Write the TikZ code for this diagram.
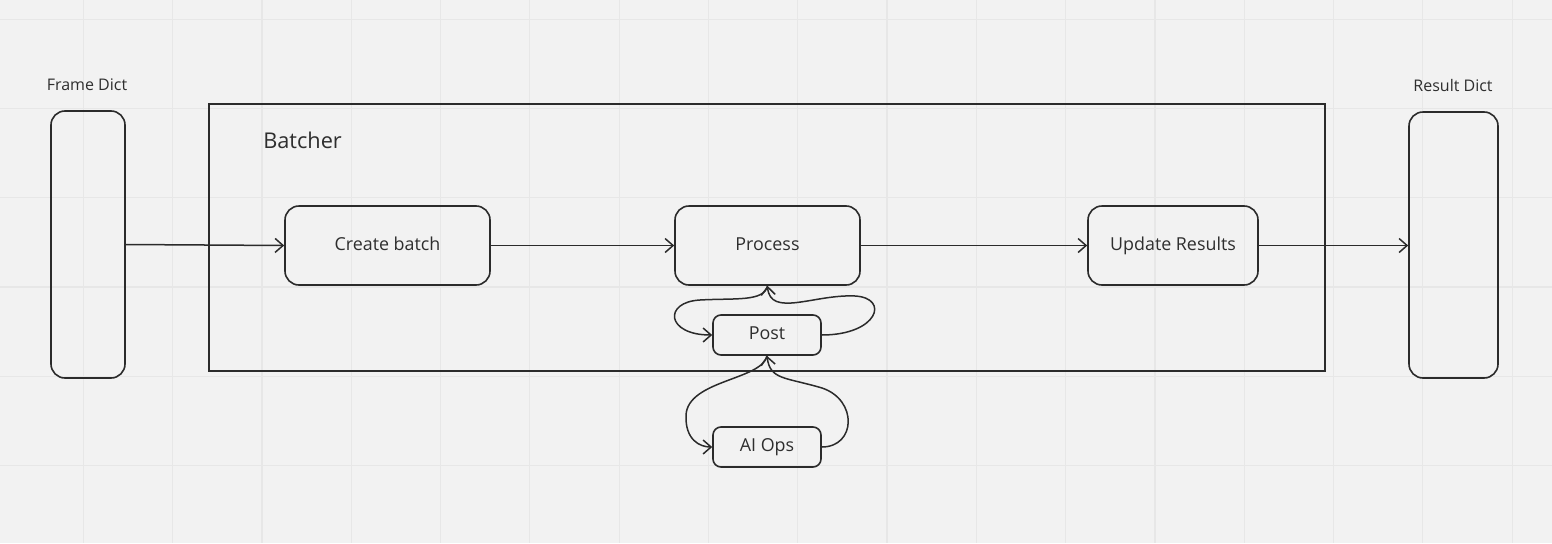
\documentclass[tikz,border=0pt]{standalone}
\usepackage{fontspec}
\setmainfont{Open Sans}
\usetikzlibrary{arrows.meta}

\newlength{\du}
\setlength{\du}{0.75pt}

\definecolor{boardcolor}{rgb}{0.949020, 0.949020, 0.949020}
\definecolor{gridcolor}{rgb}{0.905882, 0.905882, 0.905882}
\definecolor{dialinecolor}{rgb}{0.168627, 0.168627, 0.168627}
\definecolor{diatextcolor}{rgb}{0.180392, 0.180392, 0.180392}

\tikzset{
  gridline/.style={draw=gridcolor, line width=1.2\du},
  dictbox/.style={draw=dialinecolor, line width=1.6\du, rounded corners=14\du, inner sep=0pt},
  stepbox/.style={draw=dialinecolor, line width=1.6\du, rounded corners=14\du, inner sep=0pt,
    minimum height=79\du, text=diatextcolor, font=\fontsize{13.4}{15}\selectfont,
    text height=0.95em, text depth=0.24em},
  smallbox/.style={draw=dialinecolor, line width=1.6\du, rounded corners=8\du, inner sep=0pt,
    minimum width=108\du, minimum height=40\du, text=diatextcolor, font=\fontsize{13.4}{15}\selectfont,
    text height=0.95em, text depth=0.24em},
  framebox/.style={draw=dialinecolor, line width=1.6\du, inner sep=0pt},
  dictlabel/.style={text=diatextcolor, font=\fontsize{12}{14}\selectfont},
  flow/.style={draw=dialinecolor, line width=1.5\du, -{Straight Barb[length=6pt,width=10.5pt]}},
}

\begin{document}
\begin{tikzpicture}
\pgftransformxscale{1.000000}
\pgftransformyscale{-1.000000}
\useasboundingbox (0\du,0\du) rectangle (1552\du,543\du);
\fill[boardcolor] (0\du,0\du) rectangle (1552\du,543\du);
% board grid
\foreach \gx in {0,...,16}
  \draw[gridline] ({(83.3+89.3*\gx)*\du},0\du) -- ({(83.3+89.3*\gx)*\du},543\du);
\foreach \gy in {0,...,5}
  \draw[gridline] (0\du,{(19.1+89.3*\gy)*\du}) -- (1552\du,{(19.1+89.3*\gy)*\du});

% dicts
\node[dictbox, minimum width=74\du, minimum height=267\du] (framedict) at (88\du,244.5\du) {};
\node[dictlabel] (framelabel) at (87\du,85\du) {Frame Dict};
\node[dictbox, minimum width=89\du, minimum height=266\du] (resultdict) at (1453.5\du,245\du) {};
\node[dictlabel] (resultlabel) at (1453\du,85\du) {Result Dict};

% batcher frame
\node[framebox, minimum width=1116\du, minimum height=267\du] (batcher) at (767\du,237.5\du) {};
\node[anchor=west, inner sep=0pt, text=diatextcolor, font=\fontsize{16.3}{19}\selectfont] (batcherlabel) at (263\du,140\du) {Batcher};

% steps
\node[stepbox, minimum width=205\du] (createbatch) at (387.5\du,245.5\du) {Create batch};
\node[stepbox, minimum width=185\du] (process) at (767.5\du,245.5\du) {Process};
\node[stepbox, minimum width=170\du] (updateresults) at (1173\du,245.5\du) {Update Results};
\node[smallbox] (post) at (767\du,335\du) {Post};
\node[smallbox] (aiops) at (767\du,447\du) {AI Ops};

% main flow
\draw[flow] (framedict.east) -- (createbatch.west);
\draw[flow] (createbatch.east) -- (process.west);
\draw[flow] (process.east) -- (updateresults.west);
\draw[flow] (updateresults.east) -- (resultdict.west |- updateresults.east);

% post loops
\draw[flow] (process.south) .. controls (764\du,302\du) and (735\du,298\du) .. (700\du,300\du)
  .. controls (663\du,302\du) and (666\du,335\du) .. (post.west);
\draw[flow] (post.east) .. controls (878\du,335\du) and (890\du,298\du) .. (855\du,296\du)
  .. controls (815\du,294\du) and (770\du,318\du) .. (process.south);

% ai ops loops
\draw[flow] (post.south) .. controls (762\du,380\du) and (688\du,380\du) .. (686\du,415\du)
  .. controls (685\du,440\du) and (700\du,447\du) .. (aiops.west);
\draw[flow] (aiops.east) .. controls (856\du,447\du) and (858\du,400\du) .. (822\du,388\du)
  .. controls (785\du,377\du) and (770\du,380\du) .. (post.south);
\end{tikzpicture}
\end{document}
